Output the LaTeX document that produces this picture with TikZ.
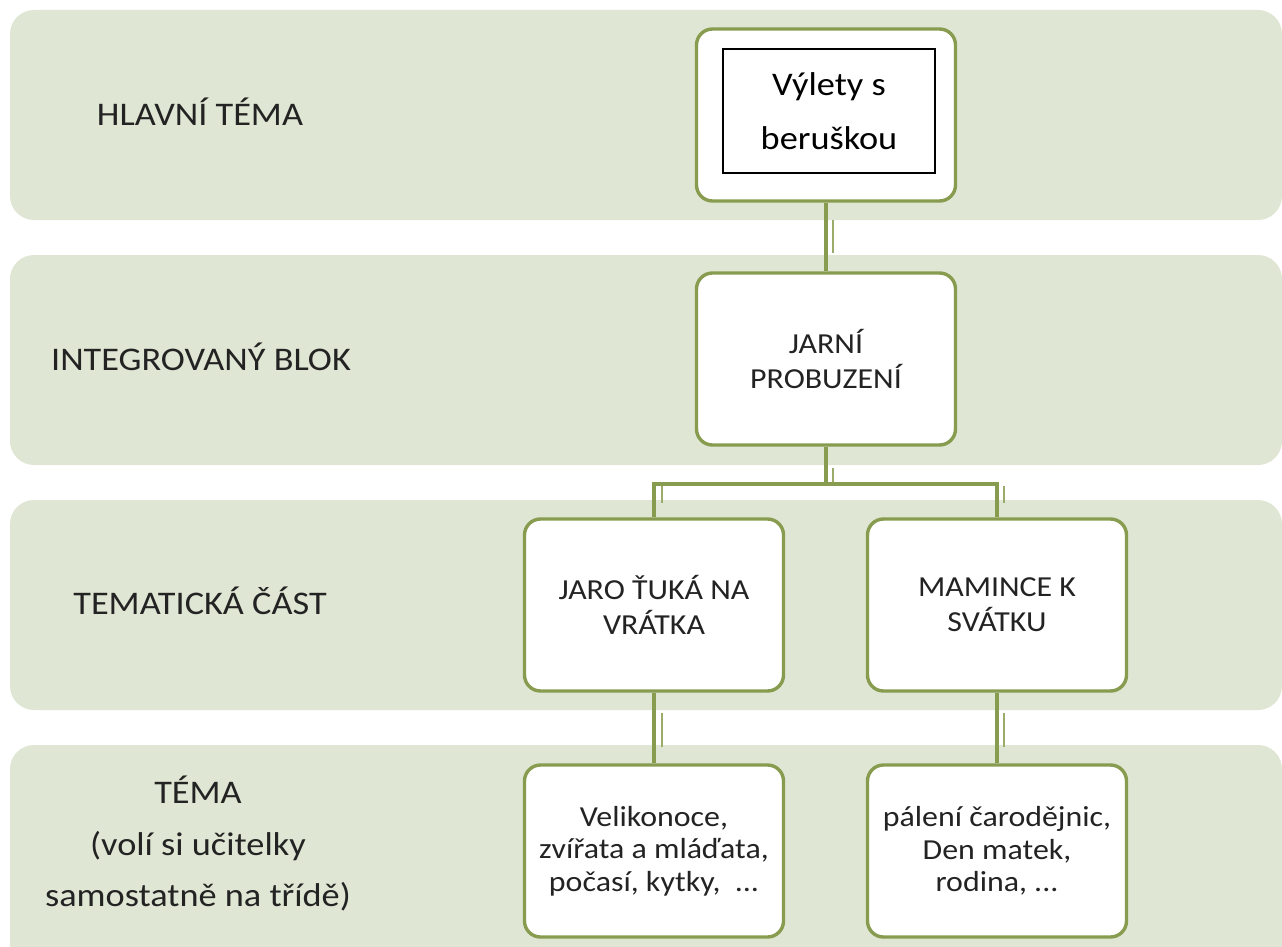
\documentclass[tikz,border=0pt]{standalone}
\usepackage{fontspec}
\setmainfont{Carlito}[FakeStretch=1.1]
\definecolor{bandfill}{RGB}{223,230,211}
\definecolor{boxline}{RGB}{136,156,80}
\definecolor{txt}{RGB}{35,35,35}
\tikzset{
  band/.style={fill=bandfill, rounded corners=24pt},
  lab/.style={text=txt, align=center, font=\fontsize{33}{51.5}\selectfont},
  gbox/.style={draw=boxline, line width=3.4pt, fill=white, rounded corners=16pt,
     minimum width=259pt, minimum height=172pt, align=center, text=txt, inner sep=0pt},
  t29/.style={font=\fontsize{29}{35}\selectfont},
  t29b/.style={font=\fontsize{29}{32.5}\selectfont},
  conn/.style={draw=boxline, line width=3.2pt},
  ghost/.style={draw=boxline!85, line width=2pt},
}
\begin{document}
\begin{tikzpicture}[x=1pt,y=-1pt]
\useasboundingbox (0,0) rectangle (1282,947);
% bands
\path[band] (10,10) rectangle (1282,220);
\path[band] (10,255) rectangle (1282,465);
\path[band] (10,500) rectangle (1282,710);
\path[band] (10,745) rectangle (1282,972);
% left labels
\node[lab, anchor=base] (l1) at (200,125) {HLAVNÍ TÉMA};
\node[lab, anchor=base] (l2) at (201,370) {INTEGROVANÝ BLOK};
\node[lab, anchor=base] (l3) at (200,614) {TEMATICKÁ ČÁST};
\node[lab] (l4) at (198,844) {TÉMA\\(volí si učitelky\\samostatně na třídě)};
% boxes
\node[gbox] (top) at (826,115) {};
\node[draw=black, line width=1.5pt, fill=white, minimum width=212pt, minimum height=124pt,
      align=center, text=black, font=\fontsize{33}{54}\selectfont] (inner) at (829,111) {Výlety s\\beruškou};
\node[gbox, t29] (mid) at (826,359) {JARNÍ\\PROBUZENÍ};
\node[gbox, t29] (jaro) at (654,605) {JARO ŤUKÁ NA\\VRÁTKA};
\node[gbox, t29] (mam) at (997,605) {MAMINCE K\\SVÁTKU};
\node[gbox, t29b] (vel) at (654,851) {Velikonoce,\\zvířata a mláďata,\\počasí, kytky, \ ...};
\node[gbox, t29b] (pal) at (997,851) {pálení čarodějnic,\\Den matek,\\rodina, ...};
% connectors
\coordinate (jn) at (826,484);
\draw[conn] (top.south) -- (mid.north);
\draw[conn] (mid.south) -- (jn);
\draw[conn] (jn) -| (jaro.north);
\draw[conn] (jn) -| (mam.north);
\draw[conn] (jaro.south) -- (vel.north);
\draw[conn] (mam.south) -- (pal.north);
% ghost marks
\coordinate (g1a) at (833,220); \coordinate (g1b) at (833,253);
\coordinate (g2a) at (833,468); \coordinate (g2b) at (833,482);
\coordinate (g3a) at (662,486); \coordinate (g3b) at (662,503);
\coordinate (g4a) at (1004,486); \coordinate (g4b) at (1004,503);
\coordinate (g5a) at (662,713); \coordinate (g5b) at (662,747);
\coordinate (g6a) at (1004,713); \coordinate (g6b) at (1004,747);
\draw[ghost] (g1a) -- (g1b);
\draw[ghost] (g2a) -- (g2b);
\draw[ghost] (g3a) -- (g3b);
\draw[ghost] (g4a) -- (g4b);
\draw[ghost] (g5a) -- (g5b);
\draw[ghost] (g6a) -- (g6b);
\end{tikzpicture}
\end{document}
